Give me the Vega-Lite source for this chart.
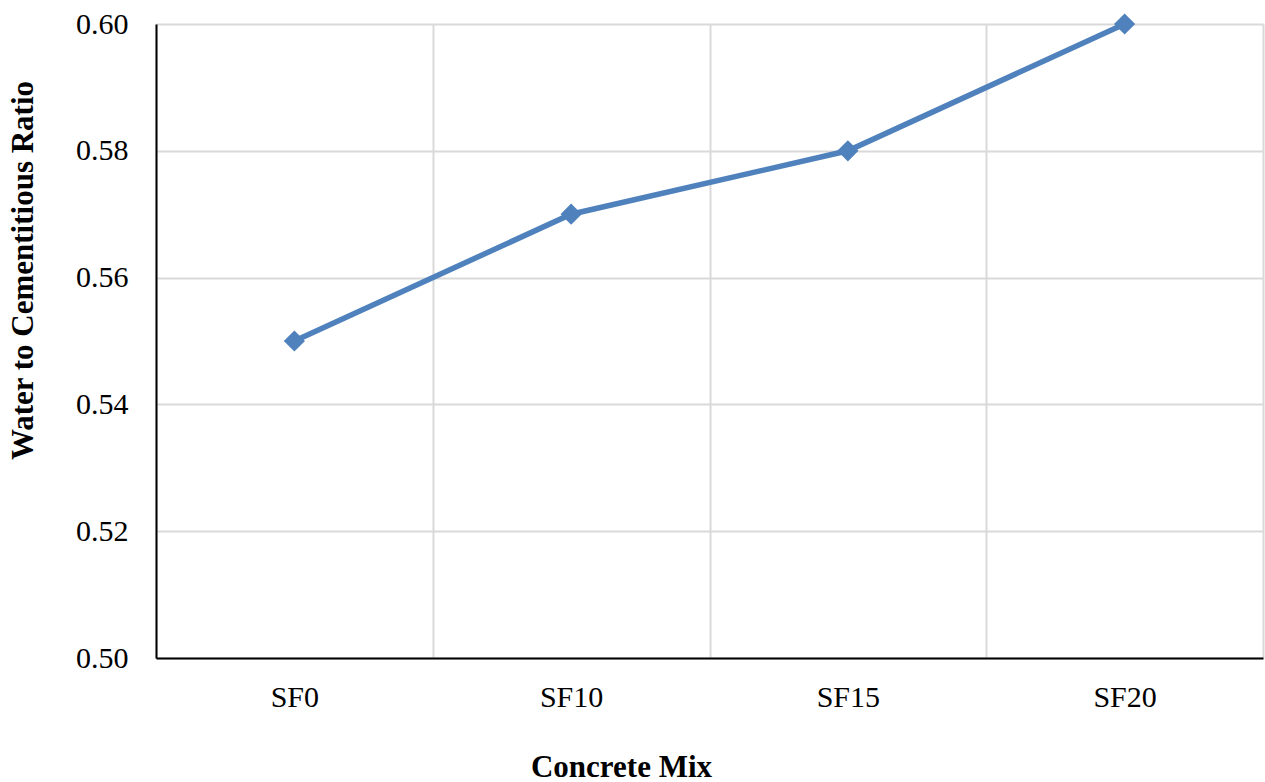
{
  "$schema": "https://vega.github.io/schema/vega-lite/v6.json",
  "width": 1107,
  "height": 634,
  "autosize": "none",
  "padding": {"left": 156, "top": 24, "right": 2, "bottom": 124},
  "config": {
    "font": "Liberation Serif",
    "view": {"stroke": null},
    "axis": {"gridColor": "#d9d9d9", "gridWidth": 2, "domainColor": "#000000", "domainWidth": 2, "ticks": false, "labelFont": "Liberation Serif", "titleFont": "Liberation Serif", "labelFontSize": 30, "titleFontSize": 31, "labelColor": "#000000", "titleColor": "#000000", "titleFontWeight": "bold"}
  },
  "data": {"values": [
    {"mix": "SF0", "ratio": 0.55},
    {"mix": "SF10", "ratio": 0.57},
    {"mix": "SF15", "ratio": 0.58},
    {"mix": "SF20", "ratio": 0.60}
  ]},
  "encoding": {
    "x": {"field": "mix", "type": "nominal", "sort": null,
      "scale": {"paddingInner": 0, "paddingOuter": 0},
      "axis": {"title": "Concrete Mix", "labelAngle": 0, "tickBand": "extent", "grid": true, "labelPadding": 24, "titlePadding": 40, "titleX": 465}},
    "y": {"field": "ratio", "type": "quantitative",
      "scale": {"domain": [0.5, 0.6], "nice": false, "zero": false},
      "axis": {"title": "Water to Cementitious Ratio", "values": [0.5, 0.52, 0.54, 0.56, 0.58, 0.6], "format": ".2f", "labelPadding": 28, "titlePadding": 36, "titleY": 246}}
  },
  "layer": [
    {"mark": {"type": "line", "color": "#4f81bd", "strokeWidth": 5.5}},
    {"mark": {"type": "point", "shape": "diamond", "filled": true, "opacity": 1, "color": "#4f81bd", "size": 450}}
  ]
}
